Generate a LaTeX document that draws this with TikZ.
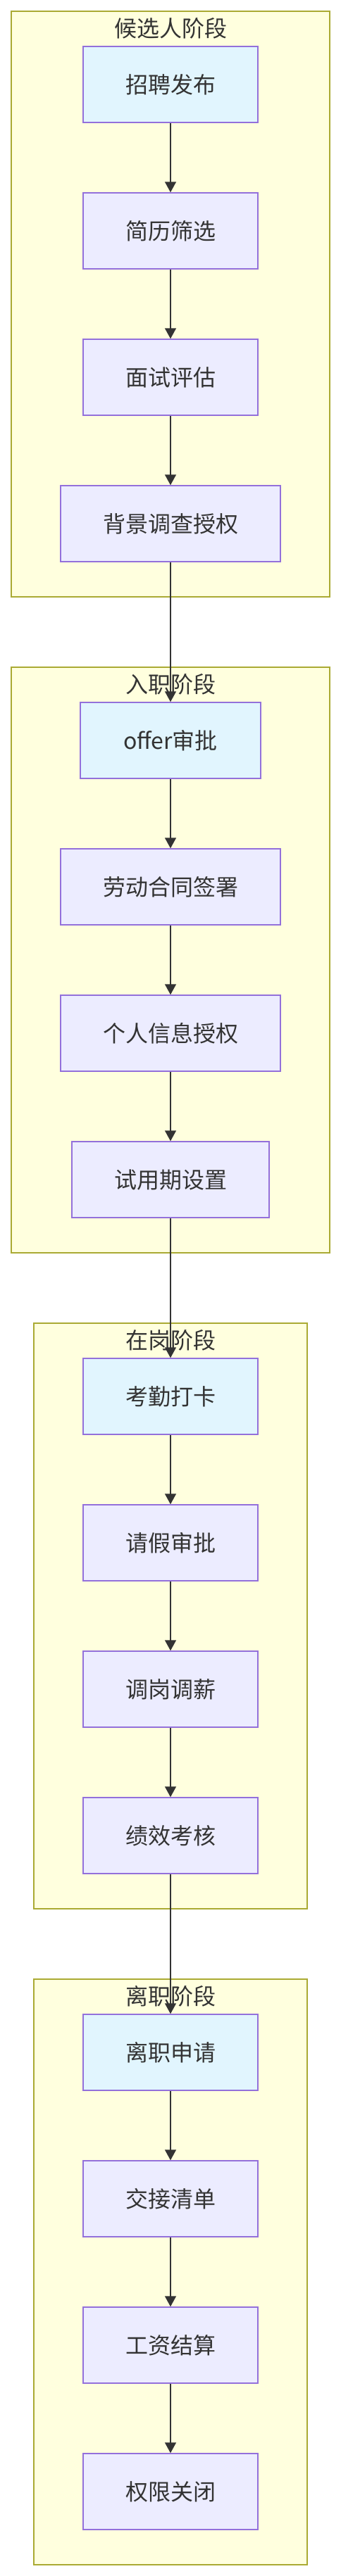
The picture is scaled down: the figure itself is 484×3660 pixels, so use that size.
\documentclass[tikz,border=0pt]{standalone}
\usepackage{fontspec}
\setmainfont{Noto Sans CJK SC}
\usetikzlibrary{arrows.meta}
\definecolor{clfill}{HTML}{FFFFDE}
\definecolor{cldraw}{HTML}{AAAA33}
\definecolor{ndfill}{HTML}{ECECFF}
\definecolor{nddraw}{HTML}{9370DB}
\definecolor{stfill}{HTML}{E1F5FE}
\definecolor{txt}{HTML}{333333}
\tikzset{
  cluster/.style={fill=clfill, draw=cldraw, line width=2pt},
  cltitle/.style={text=txt, font=\fontsize{32pt}{38pt}\selectfont, inner sep=0pt},
  stepbox/.style={rectangle, fill=ndfill, draw=nddraw, line width=1.5pt, minimum height=108pt, inner sep=0pt, text=txt, font=\fontsize{32pt}{38pt}\selectfont},
  startbox/.style={stepbox, fill=stfill},
  flow/.style={draw=txt, line width=1.6pt, -{Triangle[length=15pt,width=16pt]}}
}
\begin{document}
\begin{tikzpicture}[x=1pt,y=-1pt]
\useasboundingbox (0,0) rectangle (484,3660);
% clusters
\draw[cluster] (16,16) rectangle (468,848);
\draw[cluster] (16,948) rectangle (468,1780);
\draw[cluster] (48,1880) rectangle (436,2712);
\draw[cluster] (48,2812) rectangle (436,3644);
\node[cltitle] (t1) at (242,40) {候选人阶段};
\node[cltitle] (t2) at (242,972) {入职阶段};
\node[cltitle] (t3) at (242,1904) {在岗阶段};
\node[cltitle] (t4) at (242,2836) {离职阶段};
% nodes
\node[startbox, minimum width=248pt] (a1) at (242,120) {招聘发布};
\node[stepbox, minimum width=248pt] (a2) at (242,328) {简历筛选};
\node[stepbox, minimum width=248pt] (a3) at (242,536) {面试评估};
\node[stepbox, minimum width=312pt] (a4) at (242,744) {背景调查授权};
\node[startbox, minimum width=256pt] (b1) at (242,1052) {offer审批};
\node[stepbox, minimum width=312pt] (b2) at (242,1260) {劳动合同签署};
\node[stepbox, minimum width=312pt] (b3) at (242,1468) {个人信息授权};
\node[stepbox, minimum width=280pt] (b4) at (242,1676) {试用期设置};
\node[startbox, minimum width=248pt] (c1) at (242,1984) {考勤打卡};
\node[stepbox, minimum width=248pt] (c2) at (242,2192) {请假审批};
\node[stepbox, minimum width=248pt] (c3) at (242,2400) {调岗调薪};
\node[stepbox, minimum width=248pt] (c4) at (242,2608) {绩效考核};
\node[startbox, minimum width=248pt] (d1) at (242,2916) {离职申请};
\node[stepbox, minimum width=248pt] (d2) at (242,3124) {交接清单};
\node[stepbox, minimum width=248pt] (d3) at (242,3332) {工资结算};
\node[stepbox, minimum width=248pt] (d4) at (242,3540) {权限关闭};
% edges
\draw[flow] (a1) -- (a2);
\draw[flow] (a2) -- (a3);
\draw[flow] (a3) -- (a4);
\draw[flow] (a4) -- (b1);
\draw[flow] (b1) -- (b2);
\draw[flow] (b2) -- (b3);
\draw[flow] (b3) -- (b4);
\draw[flow] (b4) -- (c1);
\draw[flow] (c1) -- (c2);
\draw[flow] (c2) -- (c3);
\draw[flow] (c3) -- (c4);
\draw[flow] (c4) -- (d1);
\draw[flow] (d1) -- (d2);
\draw[flow] (d2) -- (d3);
\draw[flow] (d3) -- (d4);
\end{tikzpicture}
\end{document}
